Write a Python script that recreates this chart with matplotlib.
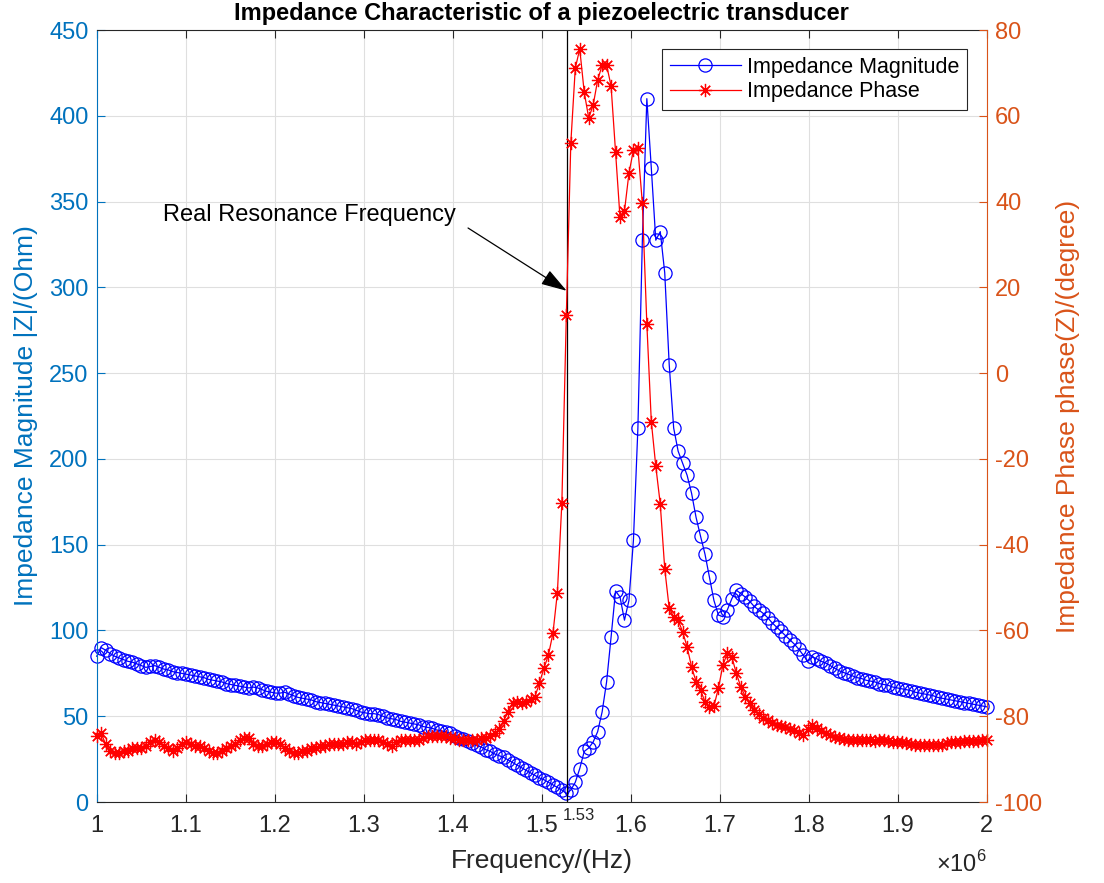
import numpy as np
import matplotlib
matplotlib.use('agg')
import matplotlib.pyplot as plt
import matplotlib.transforms as mtransforms

plt.rcParams['font.family'] = ['Liberation Sans', 'DejaVu Sans']
plt.rcParams['mathtext.fontset'] = 'custom'
plt.rcParams['mathtext.rm'] = 'Liberation Sans'

# frequency grid: 200 samples from 1 MHz to 2 MHz
freq = np.linspace(1e6, 2e6, 200)

mag = [85, 90, 88.5, 86.5, 85, 84, 83, 82, 81.5, 80.5,
       79.5, 78.5, 79, 79.5, 78.5, 77.5, 77, 76, 75.5, 75,
       74.5, 74, 73.5, 73, 72.5, 71.5, 71, 70.5, 70, 69,
       68.5, 68, 67.5, 67, 66.5, 67, 66.5, 65.5, 64.5, 64,
       63.5, 63.5, 64, 63, 62, 61, 60.5, 60, 59.5, 58.5,
       58, 57.5, 57, 56.5, 56, 55.5, 55, 54.5, 53.5, 52.5,
       52, 51.5, 51.5, 51, 50, 49, 48.5, 48, 47, 46.5,
       46, 45.5, 45, 44, 43.5, 43, 42, 41.5, 41, 40,
       38.5, 37.5, 36.5, 35.5, 34.5, 33, 32, 30.5, 29.5, 28,
       27, 26, 24.5, 23, 21.5, 20, 18.5, 17, 15.5, 14,
       13, 11.5, 10, 8.5, 7, 5, 7, 11.5, 19.5, 29.5,
       31.5, 35, 41, 52.5, 70, 96, 123, 119.5, 106, 117.5,
       152.5, 218, 327.5, 410, 369.5, 327.5, 332.5, 308.5, 255, 218,
       204.5, 197.5, 190.5, 180, 166, 155, 144.5, 131, 117.5, 109,
       108, 112, 118.5, 123.5, 121.5, 119.5, 117, 114, 112, 110,
       107.5, 104.5, 102, 99.5, 97, 94.5, 92, 89, 85.5, 82,
       84.5, 83.5, 82, 81, 79.5, 78, 76.5, 75.5, 74.5, 73.5,
       72.5, 72, 71, 70.5, 70, 69, 68.5, 68, 67, 66.5,
       66, 65.5, 65, 64, 63.5, 63, 62.5, 62, 61, 60.5,
       60, 59.5, 59, 58.5, 58, 57.5, 57, 56.5, 56, 55.5]

phase = [-84.5, -84, -86.5, -88, -88.5, -88.5, -88, -88, -87.5, -87.5,
         -87.5, -87, -86, -85.5, -86, -87, -87.5, -88, -87.5, -86.5,
         -86, -86.5, -87, -87, -87.5, -88, -88.5, -88.5, -88, -87.5,
         -87, -86.5, -85.5, -85, -85, -86.5, -87, -87, -86.5, -86,
         -86, -86.5, -87.5, -88, -88.5, -88.5, -88, -88, -87.5, -87.5,
         -87, -87, -86.5, -86.5, -86.5, -86.5, -86, -86, -86.5, -86,
         -85.5, -85.5, -85.5, -85.5, -86, -86.5, -87, -86, -85.5, -85.5,
         -85.5, -85.5, -85.5, -85, -84.5, -84.5, -84.5, -84.5, -84.5, -85,
         -85, -85.5, -85.5, -85.5, -85.5, -85.5, -85, -85, -84.5, -84,
         -83, -81, -79, -77, -76.6, -77, -76.6, -76, -75.4, -72.2,
         -68.8, -65.7, -60.7, -51.2, -30.2, 13.5, 53.6, 71.1, 75.6, 65.5,
         59.5, 62.5, 68.3, 71.8, 71.8, 67, 51.5, 36.3, 37.8, 46.6,
         52, 52.4, 39.6, 11.5, -11.3, -21.7, -30.5, -45.6, -54.8, -56.8,
         -57.6, -60.3, -63.8, -68.5, -71.9, -73.9, -76.6, -77.9, -77.6, -73.5,
         -68.1, -65.3, -66.1, -70, -73.1, -75.4, -77, -78.5, -79.5, -80.3,
         -80.9, -81.5, -82, -82.3, -82.6, -83, -83.2, -84, -84.4, -83,
         -82, -82.8, -83.5, -84, -84.4, -84.8, -85.1, -85.4, -85.5, -85.6,
         -85.5, -85.5, -85.5, -85.6, -85.7, -85.5, -85.5, -85.8, -86, -86,
         -86, -86.2, -86.4, -86.6, -86.7, -86.8, -86.8, -86.6, -86.7, -86.8,
         -86.2, -86, -85.9, -85.9, -85.8, -85.8, -85.8, -85.7, -85.6, -85.5]

res_freq = 1.528e6
xticks = [1.0, 1.1, 1.2, 1.3, 1.4, 1.5, 1.6, 1.7, 1.8, 1.9, 2.0]
xticklabels = ['1', '1.1', '1.2', '1.3', '1.4', '1.5', '1.6', '1.7', '1.8', '1.9', '2']
mag_ticks = [0, 50, 100, 150, 200, 250, 300, 350, 400, 450]
phase_ticks = [-100, -80, -60, -40, -20, 0, 20, 40, 60, 80]

left_col = '#0072BD'
right_col = '#D95319'
dark = '#262626'

fig = plt.figure(figsize=(11.04, 8.83), dpi=100)
ax = fig.add_axes([0.0876, 0.0917, 0.8062, 0.8743])
ax2 = ax.twinx()

l1, = ax.plot(freq, mag, 'b-o', mfc='none', ms=9.5, mew=0.9, lw=0.9, clip_on=False)
l2, = ax2.plot(freq, phase, 'r-', marker=(8, 2, 0), ms=9.5, mew=0.9, lw=0.9, clip_on=False)
ax.axvline(res_freq, color='black', lw=0.9)

ax.set_xlim(1e6, 2e6)
ax.set_ylim(0, 450)
ax2.set_ylim(-100, 80)
ax.set_xticks([t * 1e6 for t in xticks])
ax.set_xticklabels(xticklabels)
ax.set_yticks(mag_ticks)
ax2.set_yticks(phase_ticks)
ax2.set_yticklabels([str(t) for t in phase_ticks])

ax.grid(True, color='#dfdfdf', lw=0.8)
ax.set_axisbelow(True)

ax.tick_params(axis='x', direction='in', top=True, length=6, width=0.8,
               colors=dark, labelsize=17, pad=9)
ax.tick_params(axis='y', direction='in', length=6, width=0.8,
               colors=left_col, labelsize=17, pad=6)
ax2.tick_params(axis='y', direction='in', length=6, width=0.8,
                colors=right_col, labelsize=17, pad=6)
for s in ['top', 'bottom']:
    ax.spines[s].set_color(dark)
    ax2.spines[s].set_visible(False)
ax.spines['left'].set_color(left_col)
ax.spines['right'].set_visible(False)
ax2.spines['left'].set_visible(False)
ax2.spines['right'].set_color(right_col)
for a in (ax, ax2):
    for s in a.spines.values():
        s.set_linewidth(0.8)

ax.set_xlabel('Frequency/(Hz)', fontsize=19, color=dark, labelpad=9)
ax.set_ylabel('Impedance Magnitude |Z|/(Ohm)', fontsize=19, color=left_col, labelpad=8)
ax2.set_ylabel('Impedance Phase phase(Z)/(degree)', fontsize=19, color=right_col,
               rotation=90, labelpad=10)
ax.set_title('Impedance Characteristic of a piezoelectric transducer',
             fontsize=17, fontweight='bold', pad=7)

# x10^6 multiplier under the right end of the x axis
ax.text(1.0, -0.091, r'$\times10^{6}$', transform=ax.transAxes, ha='right',
        va='baseline', fontsize=17, color=dark)

trans = mtransforms.blended_transform_factory(ax.transData, ax.transAxes)
ax.text(res_freq - 0.004e6, -0.008, '1.53', transform=trans, ha='left', va='top',
        fontsize=12, color=dark)

ax.text(1.0745e6, 342, 'Real Resonance Frequency', fontsize=17, va='center', ha='left')
ax.annotate('', xy=(res_freq, 298), xytext=(1.4172e6, 334.6),
            arrowprops=dict(arrowstyle='-|>,head_length=0.8,head_width=0.25',
                            color='black', lw=0.9, shrinkA=0, shrinkB=0,
                            mutation_scale=20))

leg = ax2.legend([l1, l2], ['Impedance Magnitude', 'Impedance Phase'],
                 loc='upper right', fontsize=15.5, handlelength=3.3,
                 handletextpad=0.3, labelspacing=0.15, borderaxespad=0.9,
                 fancybox=False, framealpha=1, edgecolor=dark, borderpad=0.35)
leg.get_frame().set_linewidth(0.8)

fig.savefig('out.png', dpi=100)
